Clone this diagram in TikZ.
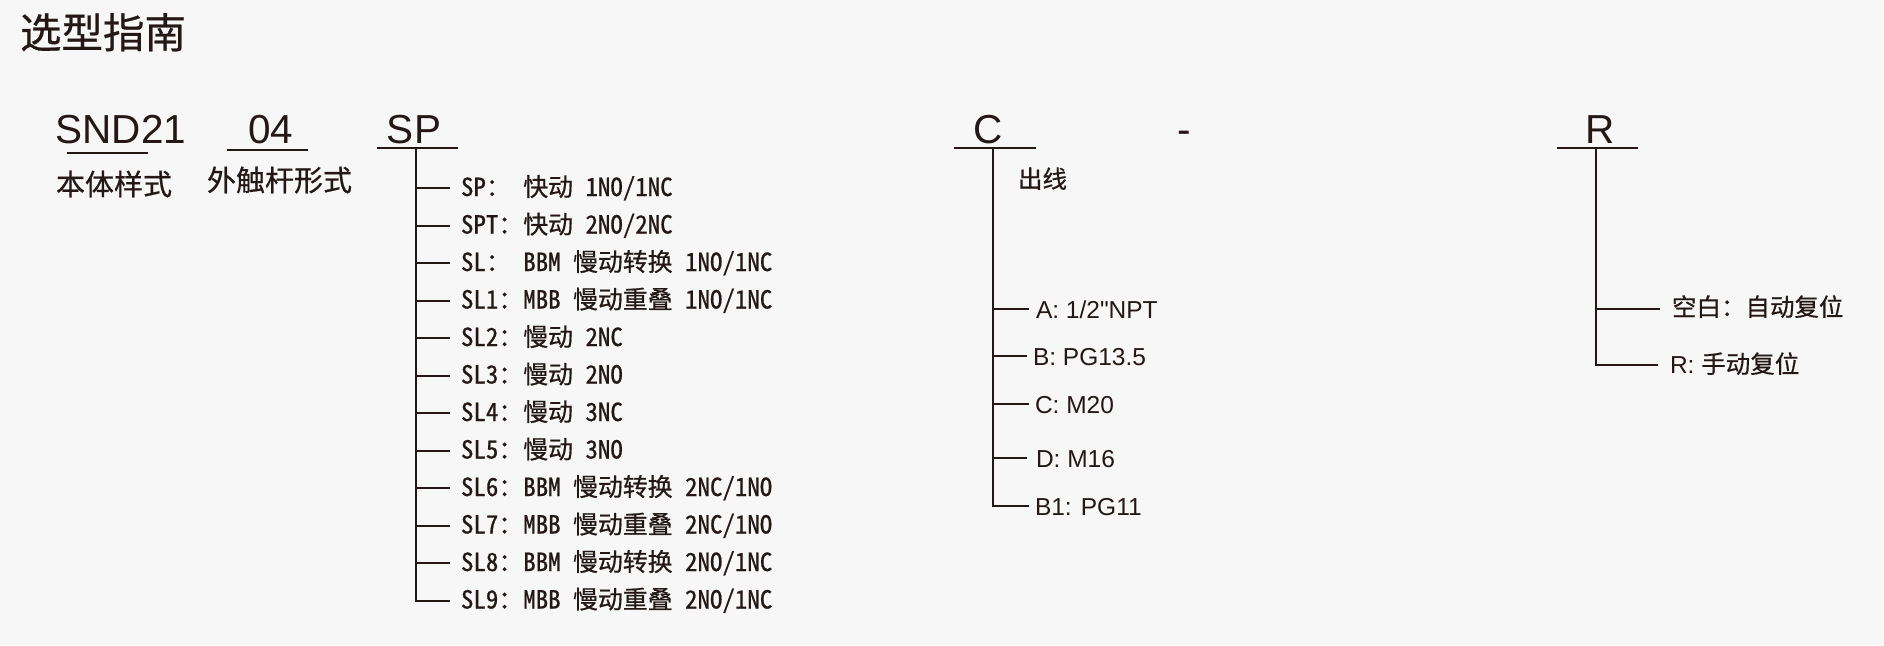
\documentclass[tikz,border=0pt]{standalone}
\usepackage{fontspec}
\setmainfont{Liberation Sans}
\newfontfamily\nomap{Liberation Sans}
\newfontfamily\cjk[FakeBold=0.6]{Noto Sans CJK SC}
\newfontfamily\cjkmono[RawFeature=+hwid,FakeBold=0.7]{Noto Sans CJK SC}
\definecolor{ink}{HTML}{231815}
\definecolor{bg}{HTML}{F7F7F7}
\newcommand\hsp{\kern0.5em}
\begin{document}
\begin{tikzpicture}[x=1pt,y=-1pt,
  every node/.style={inner sep=0pt, outer sep=0pt, text=ink},
  title/.style={font=\cjk\fontsize{41.5}{41.5}\selectfont, anchor=base west},
  code/.style={font=\fontsize{40.5}{40.5}\selectfont, anchor=base},
  lab/.style={font=\cjk\fontsize{29}{29}\selectfont, anchor=base west},
  item/.style={font=\cjkmono\fontsize{24.9}{24.9}\selectfont, anchor=base west},
  opt/.style={font=\nomap\fontsize{24.5}{24.5}\selectfont, anchor=base west},
  cjklab/.style={font=\cjk\fontsize{24.5}{24.5}\selectfont, anchor=base west},
  ln/.style={draw=ink, line width=2pt}]
\fill[bg] (0,0) rectangle (1884,645);
\useasboundingbox (0,0) rectangle (1884,645);

% title
\node[title] (title) at (20,48) {选型指南};

% code letters
\node[code] (snd) at (121,143) {SND21};
\node[code] (n04) at (271,143) {04};
\node[code] (nsp) at (414,143) {SP};
\node[code] (nc) at (988,143) {C};
\node[code] (dash) at (1184,143) {-};
\node[code] (nr) at (1600,143) {R};

% underlines
\coordinate (u1a) at (67,153);  \coordinate (u1b) at (148,153);
\coordinate (u2a) at (227,150); \coordinate (u2b) at (308,150);
\coordinate (u3a) at (377,148); \coordinate (u3b) at (458,148);
\coordinate (u4a) at (954,148); \coordinate (u4b) at (1036,148);
\coordinate (u5a) at (1557,148); \coordinate (u5b) at (1638,148);
\draw[ln] (u1a) -- (u1b);
\draw[ln] (u2a) -- (u2b);
\draw[ln] (u3a) -- (u3b);
\draw[ln] (u4a) -- (u4b);
\draw[ln] (u5a) -- (u5b);

% labels
\node[lab] (l1) at (56,195) {本体样式};
\node[lab] (l2) at (207,191) {外触杆形式};
\node[cjklab] (l3) at (1018,188) {出线};

% SP list
\coordinate (spT) at (416,148);
\foreach \i/\y in {1/188,2/225.5,3/263,4/300.5,5/338,6/375.5,7/413,8/450.5,9/488,10/525.5,11/563,12/600.5}
  \coordinate (spE\i) at (450,\y);
\node[item] (s1) at (461,196) {SP：\hsp 快动\hsp 1NO/1NC};
\node[item] (s2) at (461,233.5) {SPT：快动\hsp 2NO/2NC};
\node[item] (s3) at (461,271) {SL：\hsp BBM\hsp 慢动转换\hsp 1NO/1NC};
\node[item] (s4) at (461,308.5) {SL1：MBB\hsp 慢动重叠\hsp 1NO/1NC};
\node[item] (s5) at (461,346) {SL2：慢动\hsp 2NC};
\node[item] (s6) at (461,383.5) {SL3：慢动\hsp 2NO};
\node[item] (s7) at (461,421) {SL4：慢动\hsp 3NC};
\node[item] (s8) at (461,458.5) {SL5：慢动\hsp 3NO};
\node[item] (s9) at (461,496) {SL6：BBM\hsp 慢动转换\hsp 2NC/1NO};
\node[item] (s10) at (461,533.5) {SL7：MBB\hsp 慢动重叠\hsp 2NC/1NO};
\node[item] (s11) at (461,571) {SL8：BBM\hsp 慢动转换\hsp 2NO/1NC};
\node[item] (s12) at (461,608.5) {SL9：MBB\hsp 慢动重叠\hsp 2NO/1NC};
\draw[ln] (spT) |- (spE12);
\foreach \i in {1,...,11}
  \draw[ln] (spT |- spE\i) -- (spE\i);

% C list
\coordinate (cT) at (993,148);
\coordinate (cE1) at (1029,309);
\coordinate (cE2) at (1027,356);
\coordinate (cE3) at (1029,404);
\coordinate (cE4) at (1027,458);
\coordinate (cE5) at (1029,506);
\node[opt] (c1) at (1036,318) {A: 1/2"NPT};
\node[opt] (c2) at (1033,365) {B: PG13.5};
\node[opt] (c3) at (1035,413) {C: M20};
\node[opt] (c4) at (1036,467) {D: M16};
\node[opt] (c5) at (1035,515) {B1: PG11};
\draw[ln] (cT) |- (cE5);
\foreach \i in {1,...,4}
  \draw[ln] (cT |- cE\i) -- (cE\i);

% R list
\coordinate (rT) at (1596,148);
\coordinate (rE1) at (1660,309);
\coordinate (rE2) at (1658,365);
\node[cjklab] (r1) at (1672,316) {空白：自动复位};
\node[opt] (r2) at (1670,373) {R: {\cjk 手动复位}};
\draw[ln] (rT) |- (rE2);
\draw[ln] (rT |- rE1) -- (rE1);
\end{tikzpicture}
\end{document}
